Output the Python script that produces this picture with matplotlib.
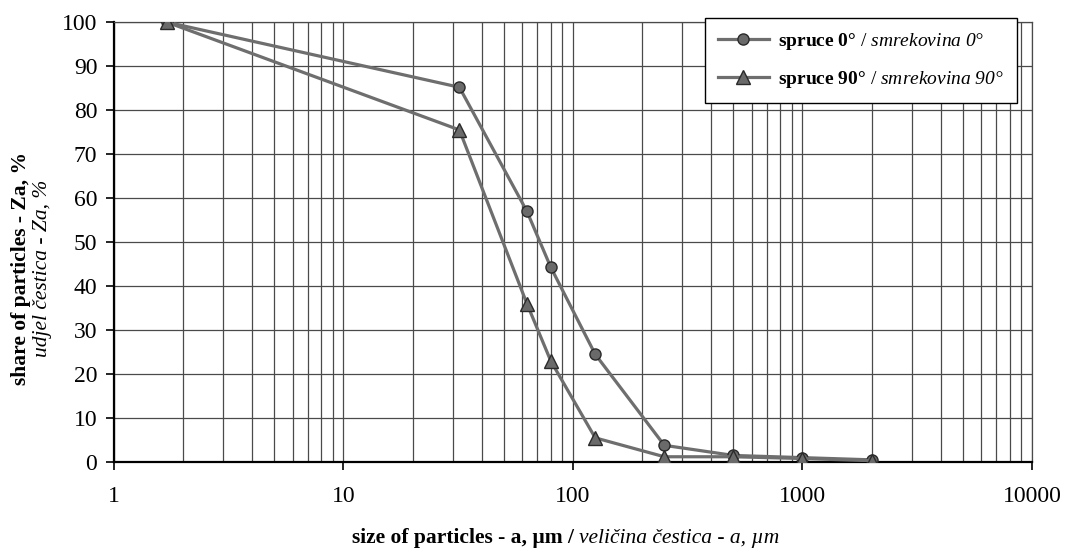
import numpy as np
import matplotlib.pyplot as plt
from matplotlib.offsetbox import TextArea, HPacker, AnchoredOffsetbox
from matplotlib.ticker import LogLocator, NullFormatter

plt.rcParams['font.family'] = 'Liberation Serif'
plt.rcParams['mathtext.fontset'] = 'custom'
# rm set to italic so digits inside the italic legend part come out italic too
plt.rcParams['mathtext.rm'] = 'Liberation Serif:italic'
plt.rcParams['mathtext.it'] = 'Liberation Serif:italic'
plt.rcParams['mathtext.bf'] = 'Liberation Serif:bold'

# particle size (um) and cumulative share (%)
size = [1.7, 32, 63, 80, 125, 250, 500, 1000, 2000]
spruce_0 = [100, 85.2, 57.0, 44.3, 24.5, 3.8, 1.5, 1.0, 0.5]
spruce_90 = [100, 75.5, 36.0, 23.0, 5.5, 1.2, 1.2, 0.8, 0.3]

label_0 = r"$\mathbf{spruce\ 0°}$ / $\mathit{smrekovina\ 0°}$"
label_90 = r"$\mathbf{spruce\ 90°}$ / $\mathit{smrekovina\ 90°}$"

fig = plt.figure(figsize=(10.65, 5.54), dpi=100)
ax = fig.add_axes([0.107, 0.166, 0.862, 0.794])

line_col = '#6e6e6e'
ax.plot(size, spruce_0, color=line_col, lw=2.3, marker='o', ms=8,
        mfc='#6a6a6a', mec='#2a2a2a', mew=1.0, label=label_0, zorder=3)
ax.plot(size, spruce_90, color=line_col, lw=2.3, marker='^', ms=10,
        mfc='#6a6a6a', mec='#2a2a2a', mew=1.0, label=label_90, zorder=3)

ax.set_xscale('log')
ax.set_xlim(1, 10000)
ax.set_ylim(0, 100)
ax.set_yticks(np.arange(0, 101, 10))
ax.set_xticks([1, 10, 100, 1000, 10000])
ax.set_xticklabels(['1', '10', '100', '1000', '10000'])
ax.xaxis.set_minor_locator(LogLocator(base=10, subs=np.arange(2, 10)))
ax.xaxis.set_minor_formatter(NullFormatter())

ax.grid(True, which='both', axis='x', color='#4a4a4a', lw=0.9)
ax.grid(True, which='major', axis='y', color='#4a4a4a', lw=0.9)
ax.set_axisbelow(True)

ax.tick_params(axis='both', which='major', labelsize=17, width=1.2,
               direction='out', color='black')
ax.tick_params(axis='x', which='major', length=5.5, pad=12)
ax.tick_params(axis='x', which='minor', length=0)
ax.tick_params(axis='y', length=6, pad=6)

for s in ['left', 'bottom']:
    ax.spines[s].set_linewidth(1.6)
    ax.spines[s].set_color('black')
for s in ['top', 'right']:
    ax.spines[s].set_linewidth(0.9)
    ax.spines[s].set_color('#4a4a4a')

leg = ax.legend(loc='upper right', bbox_to_anchor=(1017 / 1065, 1 - 18 / 554),
                bbox_transform=fig.transFigure, fontsize=14, frameon=True,
                fancybox=False, framealpha=1, edgecolor='black',
                handlelength=2.6, labelspacing=0.9, borderpad=0.65,
                handletextpad=0.5, borderaxespad=0)
leg.get_frame().set_linewidth(1.0)

# x axis label: bold + italic parts
xl_b = TextArea("size of particles - a, µm /",
                textprops=dict(fontsize=15.5, fontweight='bold'))
xl_i = TextArea("veličina čestica - a, µm",
                textprops=dict(fontsize=15.5, fontstyle='italic'))
xl = HPacker(children=[xl_b, xl_i], align='baseline', pad=0, sep=4)
box = AnchoredOffsetbox(loc='center', child=xl, frameon=False,
                        bbox_to_anchor=(0.531, 0.029),
                        bbox_transform=fig.transFigure, borderpad=0, pad=0)
fig.add_artist(box)

# y axis label, two lines
fig.text(0.020, 0.516, "share of particles - Za, %", rotation=90,
         fontsize=15.5, fontweight='bold', ha='center', va='center')
fig.text(0.040, 0.516, "udjel čestica - Za, %", rotation=90,
         fontsize=15.5, fontstyle='italic', ha='center', va='center')

fig.savefig('out.png', dpi=100)
